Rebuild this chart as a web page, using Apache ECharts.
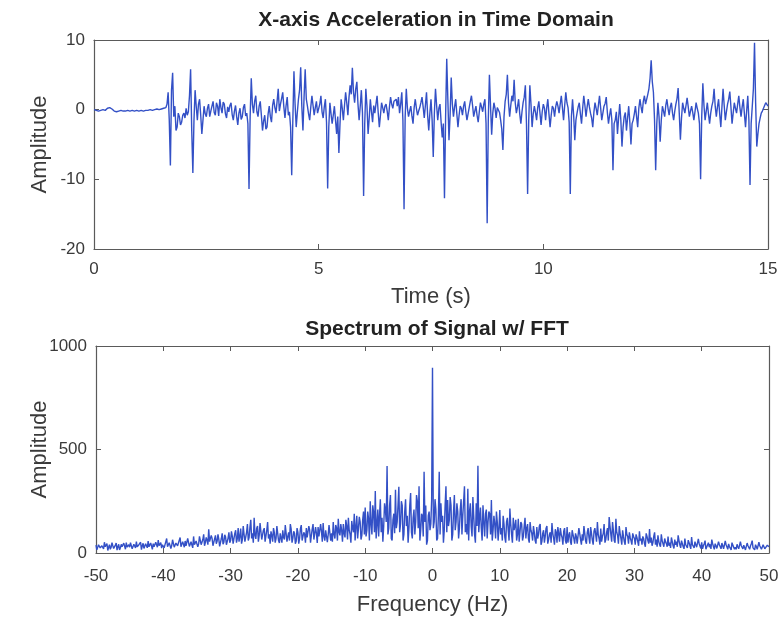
<!DOCTYPE html>
<html>
<head>
<meta charset="utf-8">
<script src="https://cdn.jsdelivr.net/npm/echarts@6/dist/echarts.min.js"></script>
<style>
html,body{margin:0;padding:0;background:#fff;}
#c{width:783px;height:618px;}
</style>
</head>
<body>
<div id="c"></div>
<script>
// ---- Data ----
const topTitle = 'X-axis Acceleration in Time Domain';
const bottomTitle = 'Spectrum of Signal w/ FFT';
const timeTicks = [0, 5, 10, 15];
const accTicks = [-20, -10, 0, 10];
const freqTicks = [-50, -40, -30, -20, -10, 0, 10, 20, 30, 40, 50];
const ampTicks = [0, 500, 1000];

// time samples: start 0 s, step 0.025 s (one row = one second)
const timeStart = 0;
const timeStep = 0.025;
const timeAcc = [
  0,-0.05,-0.1,-0.2,-0.2,-0.1,-0.1,0,0,-0.1,-0.1,0.1,0.2,0.2,0.3,0.2,0.1,0,-0.2,-0.2,-0.3,-0.3,-0.2,-0.1,-0.1,-0.2,-0.2,-0.1,-0.2,-0.2,-0.1,-0.1,-0.2,-0.2,-0.1,-0.2,-0.2,-0.1,-0.1,-0.2,
  -0.2,-0.1,-0.1,-0.2,-0.2,-0.1,-0.1,-0.1,-0.1,0,0,-0.1,-0.1,0,0,0.1,0.1,0,0,0.1,0.1,0.2,0.2,0.1,0.3,0.8,2.5,-1.5,-8.0,2.8,5.3,-1.0,0.5,-3.0,-2.5,-0.5,-1.0,-2.2,-1.8,-0.8,
  -0.5,-1.2,0.2,-0.8,-0.3,2.0,5.8,-3.0,-9.1,-1.5,2.8,0.5,-1.5,0.8,1.5,-0.8,-3.5,-1.5,0.5,-0.6,-1.0,0.2,0.8,-1.0,-0.2,0.5,1.2,-0.4,-0.8,1.0,0.5,-0.9,1.5,0.3,-0.5,1.1,0.8,-0.6,-1.2,0.4,
  -0.3,0.6,1.0,-0.7,-1.5,-0.2,0.6,-1.0,-2.2,-0.5,0.2,-1.4,-1.0,0.3,0.8,-0.9,-0.5,-2.0,-11.4,-1.0,4.5,0.8,-0.5,1.2,2.0,-0.3,-1.0,0.5,1.2,-0.8,-3.0,-1.6,-0.8,-2.8,-2.5,-0.6,0.5,-1.0,-1.8,0.6,
  1.5,0.3,-0.5,1.2,3.0,-0.2,0.8,1.6,2.5,0.4,-1.2,0.6,1.8,-0.8,-0.3,-2.5,-9.4,-1.5,5.5,0.8,-2.5,-0.4,1.5,2.8,6.1,0.5,-3.0,1.8,5.8,1.5,0.5,-0.6,-1.5,0.4,2.0,0.6,-0.8,0.3,1.2,-0.5,
  -0.5,0.8,2.0,-0.3,-1.2,0.4,1.5,-1.8,-11.3,-2.5,1.0,-0.6,-2.0,-0.8,0.5,-1.5,-3.5,-1.0,-6.2,-2.0,1.5,0.2,-1.5,0.6,2.5,1.0,-0.8,1.8,3.5,2.2,6.0,2.5,1.0,3.0,4.0,0.8,-1.5,0.5,2.8,-0.5,
  -12.4,-2.0,3.0,0.5,-3.5,-1.2,1.5,-0.3,-1.8,0.6,-0.5,0.8,2.0,-0.4,-2.5,-0.8,1.0,0.3,-0.5,0.5,0.8,-0.2,-1.5,0.4,1.8,0.8,0.2,1.2,1.0,1.5,0.5,1.8,-0.5,0.8,2.5,-1.5,-14.3,-1.0,3.0,0.2,
  -1.0,-0.2,0.5,-0.9,-2.0,0.3,1.5,0.2,-0.8,-0.2,0.3,1.0,1.8,0.4,-1.2,0.6,2.5,-0.8,-3.0,-0.5,1.5,-1.5,-6.8,-0.5,3.0,0.6,-1.5,0.2,0.8,-1.8,-4.0,-2.0,-12.7,-1.0,7.3,1.5,-4.4,-0.8,4.6,0.8,
  -1.0,0.4,1.5,-0.6,-2.5,-0.8,0.5,0.2,-0.8,0.5,1.2,-0.3,-1.5,-0.6,0.3,1.2,2.0,0.6,-1.0,-0.2,0.5,-0.8,-1.8,-0.3,1.0,0.4,-0.3,0.8,1.5,-2.0,-16.3,-1.5,5.0,0.5,-3.6,-0.5,1.0,0.2,-1.2,0.3,
  0.5,-0.4,-1.5,-2.8,-5.8,-1.0,1.2,2.2,5.0,1.0,-1.0,0.6,2.0,1.2,4.3,1.0,-0.5,0.4,1.5,-0.6,-2.0,-0.3,1.0,1.8,3.5,-2.0,-12.1,-1.5,3.5,0.8,-2.5,-0.6,0.5,-0.4,-1.5,0.3,1.2,-0.5,-2.2,-0.3,
  0.8,0.2,-1.5,0.3,1.5,-0.6,-2.5,-0.8,0.5,0.2,-1.0,0.4,1.2,0.5,-0.5,0.8,2.0,0.3,-1.5,0.6,2.5,1.0,0.3,-1.8,-12.1,-1.0,1.5,-0.8,-4.4,-1.5,-0.5,0.4,1.0,-0.6,-2.0,0.2,2.0,0.6,-1.0,0.4,
  1.5,0.4,-0.5,-1.2,-2.5,-0.4,1.0,0.2,-0.8,0.6,2.0,0.3,-1.5,-0.5,0.5,0.9,1.8,-0.4,-2.0,-0.8,0.2,-1.5,-8.7,-2.0,-1.5,-0.3,-3.5,-1.2,0.8,-1.5,-5.3,-2.5,-1.0,-0.4,-3.0,-1.2,0.5,-1.8,-5.0,-2.0,
  -1.5,-0.6,0.5,-1.0,-2.5,0.2,1.5,0.4,-0.5,1.2,2.0,0.8,1.0,2.2,3.0,4.5,7.1,4.0,2.5,-1.5,-8.7,-2.0,1.0,-1.0,-4.6,-1.5,0.5,-0.2,-1.0,0.6,1.5,0.2,-0.8,0.4,1.0,-0.5,-1.5,-0.2,0.8,1.6,
  3.1,-0.5,-4.3,-1.2,1.0,0.2,-0.5,0.6,1.7,0.4,-1.0,-0.2,0.5,-0.4,-1.5,-0.3,1.0,0.2,-0.5,-2.0,-10.0,-1.0,3.8,0.6,-1.5,-0.2,1.0,-0.6,-2.0,-0.5,0.5,1.2,3.0,0.5,-1.0,0.4,1.5,-0.6,-2.5,0.4,
  3.0,0.6,-1.5,-0.3,0.8,1.5,2.6,0.4,-2.0,-0.5,1.0,0.2,-0.5,0.8,2.0,0.3,-1.0,0.4,1.5,-0.6,-2.5,-0.2,2.0,-1.5,-10.8,-2.0,0.5,3.0,9.6,1.0,-5.3,-3.5,-2.0,-1.2,-0.5,-0.2,0.2,0.6,1.0,0.8,
  0.5
];

// frequency bins: start -50 Hz, step 0.125 Hz (one row = 5 Hz)
const freqStart = -50;
const freqStep = 0.125;
const freqAmp = [
  38,15,22,40,45,25,18,35,30,20,52,30,25,45,12,28,40,18,28,50,35,22,20,38,48,14,30,42,15,25,42,30,26,48,33,18,50,28,21,40,
  28,50,44,20,19,42,36,25,55,30,24,40,31,52,16,35,47,22,29,45,38,25,58,30,22,48,34,18,45,30,26,52,40,28,62,35,30,50,24,40,
  48,25,33,55,70,30,28,50,45,22,36,64,60,28,25,48,52,35,40,62,75,30,32,55,46,28,58,35,30,70,66,32,42,55,38,25,80,40,35,58,
  55,30,44,80,72,40,38,65,90,35,50,75,62,40,115,55,48,85,70,35,40,68,85,45,58,90,66,32,35,70,95,42,52,88,78,40,45,72,100,50,
  60,105,82,45,48,95,110,50,70,120,55,80,118,45,65,130,90,55,50,100,140,60,75,125,160,70,95,50,170,85,68,120,130,55,85,145,150,65,72,110,
  120,55,62,110,150,70,90,45,105,85,55,120,98,50,70,130,125,60,48,95,88,50,110,75,65,135,130,55,80,100,60,140,115,50,72,105,95,45,58,120,
  100,45,70,118,135,60,55,100,90,50,120,75,68,130,110,50,85,115,140,65,62,125,95,48,125,80,75,140,105,55,145,80,60,110,115,52,88,135,130,60,
  95,55,150,90,70,135,120,60,165,100,85,140,110,55,140,95,75,160,130,65,170,110,90,50,155,120,100,190,60,130,180,70,120,175,150,65,85,160,200,90,
  220,80,110,200,165,60,250,140,90,230,195,100,300,70,140,210,80,180,260,100,170,55,130,240,210,150,420,90,120,230,280,70,60,160,190,95,305,120,150,230,
  320,100,140,250,230,60,90,200,260,130,180,50,120,230,290,100,70,170,210,90,150,280,250,120,322,60,110,190,180,80,392,150,230,40,60,180,200,110,140,260,
  895,
  120,150,260,210,60,70,180,392,90,240,150,180,50,110,230,322,100,256,130,160,270,230,60,90,200,280,110,150,240,200,70,120,210,260,90,180,250,322,100,140,
  90,310,60,200,240,130,80,270,180,90,50,240,130,421,100,170,220,120,60,230,150,80,190,210,70,150,200,190,90,256,60,110,180,140,70,200,150,60,120,208,
  90,120,60,180,140,75,50,150,170,110,60,215,140,90,50,170,110,130,160,60,90,165,55,100,150,140,60,80,130,170,70,120,140,70,50,150,110,95,60,130,
  100,60,45,125,70,90,130,140,40,55,95,110,50,80,120,130,45,65,90,100,50,145,95,70,40,115,100,50,125,95,55,120,90,75,40,105,120,60,45,125,
  50,85,100,55,40,110,90,70,45,95,80,45,40,120,95,65,40,90,60,130,95,58,45,100,120,75,45,125,95,62,40,105,120,88,55,150,90,70,40,118,
  55,80,95,140,50,65,100,120,60,174,130,90,55,150,110,60,50,165,100,85,45,130,95,70,40,110,80,55,40,125,90,80,45,100,75,60,40,95,80,70,
  40,90,75,55,35,105,60,70,40,80,70,45,30,95,80,60,45,116,50,75,35,50,80,100,40,65,30,85,55,40,30,90,60,58,30,70,55,45,30,80,
  35,50,25,75,55,35,22,65,40,55,30,85,60,40,25,60,45,30,20,70,40,48,25,62,50,35,20,77,40,45,25,55,40,28,20,68,45,40,22,52,
  20,35,45,60,18,25,40,50,28,42,20,65,45,30,18,45,35,22,15,55,40,38,20,48,35,20,15,58,40,32,18,44,30,26,15,50,38,36,18,28,
  18,42,30,20,15,55,35,30,20,38,45,15,12,48,35,26,18,35,45,60,25,22,15,40,30,18,12,52,35,30,18,25,40,45,20,20,15,38,42,30
];

// ---- Build chart ----
const timePairs = timeAcc.map((v, i) => [timeStart + i * timeStep, v]);
const freqPairs = freqAmp.map((v, i) => [freqStart + i * freqStep, v]);

const FONT = '"Liberation Sans", Arial, Helvetica, sans-serif';
const axisColor = '#5a5a5a';
const textColor = '#3a3a3a';
const lineColor = '#3350c6';

function xAx(gi, min, max, interval, name, showLabels, pos, margin, nameGap) {
  return {
    type: 'value', gridIndex: gi, min: min, max: max, interval: interval, position: pos,
    name: showLabels ? name : '', nameLocation: 'middle', nameGap: nameGap, nameMoveOverlap: false,
    nameTextStyle: {fontFamily: FONT, fontSize: 22, color: textColor},
    axisLine: {show: true, onZero: false, lineStyle: {color: axisColor, width: 1.2}},
    axisTick: {show: true, inside: true, length: 5, lineStyle: {color: axisColor}},
    axisLabel: {show: showLabels, fontFamily: FONT, fontSize: 17, color: textColor, margin: margin,
                formatter: v => String(v)},
    splitLine: {show: false}
  };
}
function yAx(gi, min, max, interval, name, showLabels, pos, nameGap) {
  return {
    type: 'value', gridIndex: gi, min: min, max: max, interval: interval, position: pos,
    name: showLabels ? name : '', nameLocation: 'middle', nameGap: nameGap, nameRotate: 90, nameMoveOverlap: false,
    nameTextStyle: {fontFamily: FONT, fontSize: 22, color: textColor},
    axisLine: {show: true, onZero: false, lineStyle: {color: axisColor, width: 1.2}},
    axisTick: {show: true, inside: true, length: 5, lineStyle: {color: axisColor}},
    axisLabel: {show: showLabels, fontFamily: FONT, fontSize: 17, color: textColor, margin: 9,
                formatter: v => String(v)},
    splitLine: {show: false}
  };
}

const chart = echarts.init(document.getElementById('c'), null, {renderer: 'canvas'});
chart.setOption({
  animation: false,
  backgroundColor: '#fff',
  title: [
    {text: topTitle, left: 431, top: 5, textAlign: 'center',
     textStyle: {fontFamily: FONT, fontSize: 21, fontWeight: 'bold', color: '#222'}},
    {text: bottomTitle, left: 432, top: 314, textAlign: 'center',
     textStyle: {fontFamily: FONT, fontSize: 21, fontWeight: 'bold', color: '#222'}}
  ],
  grid: [
    {left: 94, top: 40, width: 674, height: 209},
    {left: 96, top: 346, width: 673, height: 207}
  ],
  xAxis: [
    xAx(0, timeTicks[0], timeTicks[timeTicks.length - 1], 5, 'Time (s)', true, 'bottom', 12, 37),
    xAx(0, timeTicks[0], timeTicks[timeTicks.length - 1], 5, '', false, 'top', 8, 0),
    xAx(1, freqTicks[0], freqTicks[freqTicks.length - 1], 10, 'Frequency (Hz)', true, 'bottom', 15, 41),
    xAx(1, freqTicks[0], freqTicks[freqTicks.length - 1], 10, '', false, 'top', 8, 0)
  ],
  yAxis: [
    yAx(0, accTicks[0], accTicks[accTicks.length - 1], 10, 'Amplitude', true, 'left', 43),
    yAx(0, accTicks[0], accTicks[accTicks.length - 1], 10, '', false, 'right', 0),
    yAx(1, ampTicks[0], ampTicks[ampTicks.length - 1], 500, 'Amplitude', true, 'left', 45),
    yAx(1, ampTicks[0], ampTicks[ampTicks.length - 1], 500, '', false, 'right', 0)
  ],
  series: [
    {type: 'line', xAxisIndex: 0, yAxisIndex: 0, data: timePairs, showSymbol: false,
     lineStyle: {color: lineColor, width: 1.4}, clip: true},
    {type: 'line', xAxisIndex: 2, yAxisIndex: 2, data: freqPairs, showSymbol: false,
     lineStyle: {color: lineColor, width: 1.4}, clip: true}
  ]
});
</script>
</body>
</html>
